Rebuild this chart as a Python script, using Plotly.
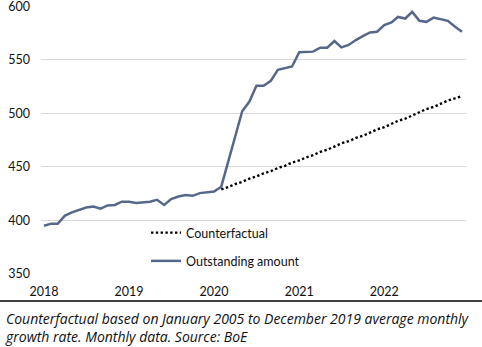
import pandas as pd
import plotly.graph_objects as go

# ---------------- data ----------------
months = pd.date_range("2018-01-01", periods=60, freq="MS")
outstanding = [
    395, 397, 397, 404.5, 407.5, 410, 412, 413, 411, 414, 414.5, 417.5,      # 2018
    417.5, 416.3, 416.9, 417.5, 419.3, 414.4, 420, 422.4, 423.7, 423, 425.5, 426.1,  # 2019
    427, 431.5, 455, 478, 502, 511, 525.8, 525.8, 530.4, 540.6, 542, 543.7,  # 2020
    557, 557, 557.6, 561.3, 561.3, 567.5, 561.6, 563.8, 568.4, 572, 575.5, 576.2,  # 2021
    582.4, 584.8, 590, 588.5, 594.7, 586.4, 585.4, 589.4, 588, 586.4, 580.8, 576.2,  # 2022
]
cf_months = months[25:]
counterfactual = [
    429, 431, 434, 436, 439, 441, 444, 446, 449, 451, 454,
    456, 459, 461, 464, 466, 469, 472, 474, 477, 479, 482, 485,
    487, 490, 493, 495, 498, 501, 504, 506, 509, 512, 514, 516,
]
y_ticks = [350, 400, 450, 500, 550, 600]
x_ticks = ["2018-01-01", "2019-01-01", "2020-01-01", "2021-01-01", "2022-01-01"]
x_ticklabels = ["2018", "2019", "2020", "2021", "2022"]
caption = ("Counterfactual based on January 2005 to December 2019 average monthly<br>"
           "growth rate. Monthly data. Source: BoE")

# ---------------- layout constants ----------------
W, H = 482, 347
ML, MR, MT, MB = 41, 16, 6, 73
PW, PH = W - ML - MR, H - MT - MB
FONT = "Lato, 'Open Sans', sans-serif"
CAP_FONT = "'Open Sans', Lato, sans-serif"
LINE_COLOR = "#56688a"

fig = go.Figure()
fig.add_trace(go.Scatter(
    x=months, y=outstanding, mode="lines", name="Outstanding amount",
    line=dict(color=LINE_COLOR, width=2.5), legendgroup="b", legendrank=2,
))
fig.add_trace(go.Scatter(
    x=cf_months, y=counterfactual, mode="lines", name="Counterfactual",
    line=dict(color="#000000", width=2.4, dash="2.4px,2.4px"), legendgroup="a", legendrank=1,
))

def px_x(p):
    return (p - ML) / PW

def px_y(p):
    return (H - MB - p) / PH

fig.update_layout(
    width=W, height=H,
    margin=dict(l=ML, r=MR, t=MT, b=MB, autoexpand=False),
    paper_bgcolor="white", plot_bgcolor="white",
    font=dict(family=FONT, size=12.5, color="#111111"),
    showlegend=True,
    legend=dict(
        x=px_x(146), y=px_y(218), xanchor="left", yanchor="top",
        bgcolor="rgba(0,0,0,0)", font=dict(size=12.5, color="#111111"),
        traceorder="grouped", tracegroupgap=9,
    ),
    xaxis=dict(
        range=["2017-12-19", "2022-12-18"],
        tickvals=x_ticks, ticktext=x_ticklabels,
        showgrid=False, zeroline=False, showline=False, ticks="",
        ticklabelstandoff=8, automargin=False,
    ),
    yaxis=dict(
        range=[350, 600.2], tickvals=y_ticks,
        showgrid=True, gridcolor="#d9d9d9", gridwidth=1,
        zeroline=False, showline=False, ticks="",
        ticklabelstandoff=10, ticklabeloverflow="allow", automargin=False,
    ),
    shapes=[dict(
        type="line", xref="paper", yref="paper",
        x0=px_x(0), x1=px_x(W), y0=px_y(301), y1=px_y(301),
        line=dict(color="#000000", width=1.3),
    )],
    annotations=[dict(
        xref="paper", yref="paper", x=px_x(3), y=px_y(307),
        xanchor="left", yanchor="top", align="left", showarrow=False,
        text="<i>" + caption + "</i>",
        font=dict(family=CAP_FONT, size=14, color="#111111"),
    )],
)

fig.write_html("out.html")
